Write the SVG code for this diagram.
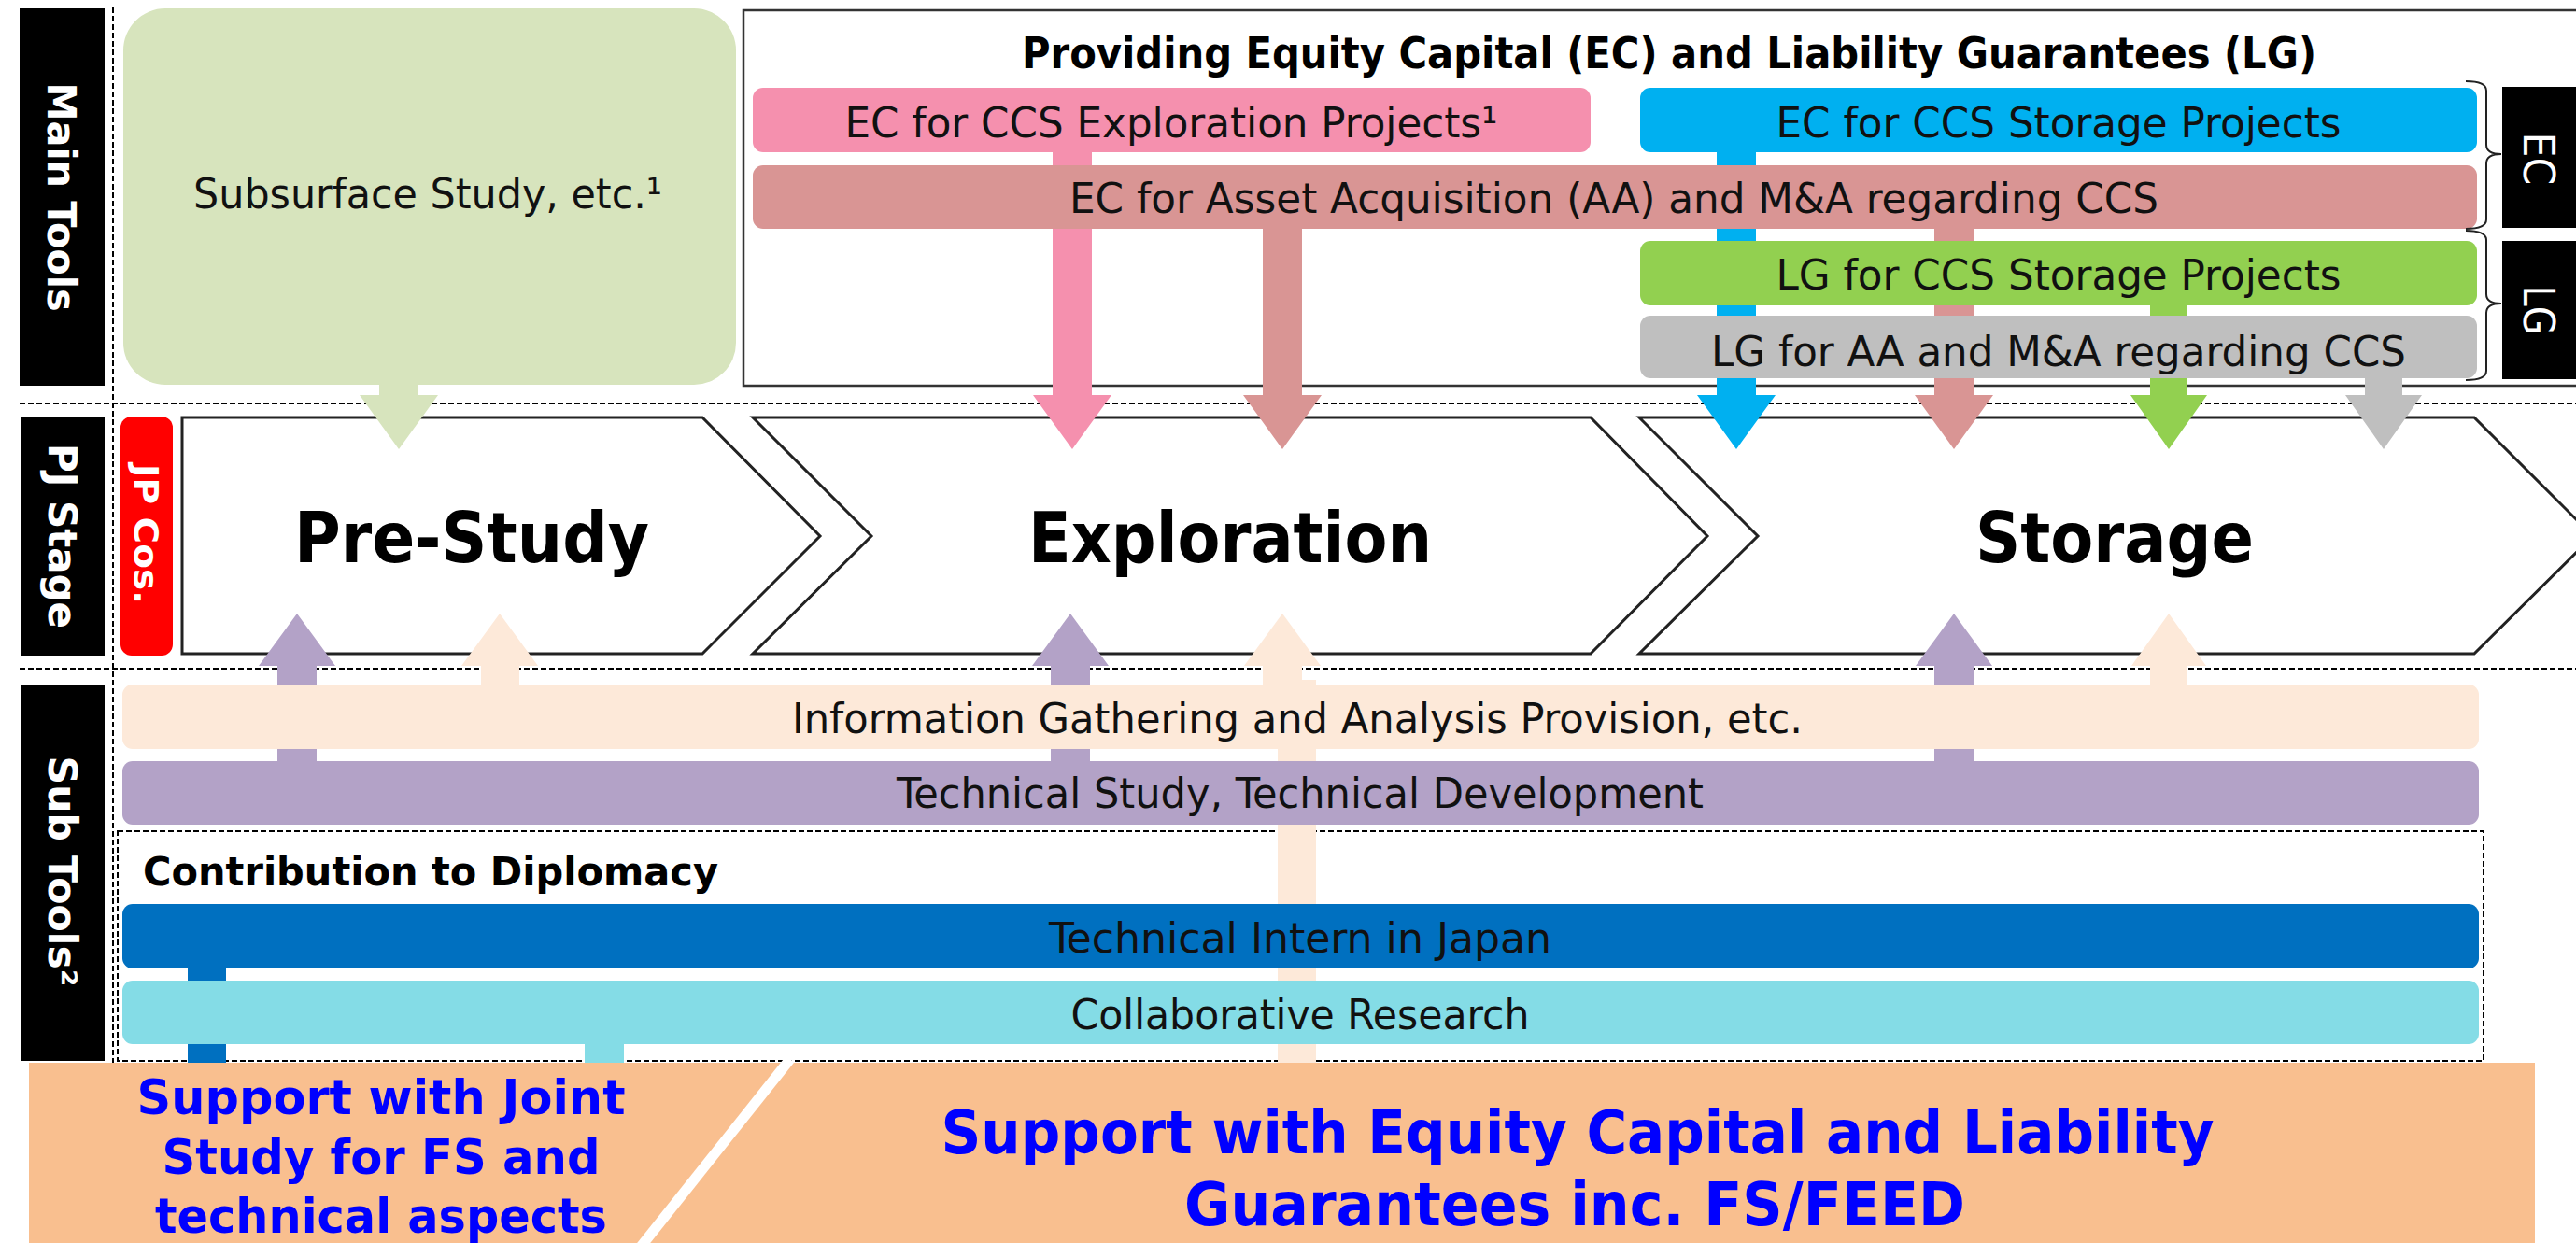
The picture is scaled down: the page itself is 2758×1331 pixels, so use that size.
<svg xmlns="http://www.w3.org/2000/svg" width="2758" height="1331" viewBox="0 0 2758 1331">
<defs>
<style>
.lbl{font-family:"DejaVu Sans Condensed","DejaVu Sans","Liberation Sans",sans-serif;font-stretch:condensed;font-size:45px;fill:#111;text-anchor:middle}
.bold{font-family:"DejaVu Sans","Liberation Sans",sans-serif;font-weight:bold;fill:#000}
.stage{font-size:75px;text-anchor:middle}
.side{font-family:"DejaVu Sans","Liberation Sans",sans-serif;font-weight:bold;fill:#fff;text-anchor:middle;font-size:42px}
.ban{font-family:"DejaVu Sans","Liberation Sans",sans-serif;font-weight:bold;fill:#0000FF;text-anchor:middle}
.dash{stroke:#000;stroke-width:2;stroke-dasharray:6 3;fill:none}
.chev{fill:#fff;stroke:#222;stroke-width:3;stroke-linejoin:miter}
</style>
</defs>
<rect width="2758" height="1331" fill="#fff"/>

<g id="grid">
<line class="dash" x1="21" y1="432" x2="2758" y2="432"/>
<line class="dash" x1="21" y1="716" x2="2758" y2="716"/>
<line class="dash" x1="121" y1="8" x2="121" y2="1138"/>
<rect class="dash" x="126" y="890" width="2533" height="246"/>
</g>

<g id="row-labels">
<g id="main-tools"><rect x="21" y="9" width="91" height="404" fill="#000"/>
<text class="side" transform="translate(66,211) rotate(90)" x="0" y="15" textLength="245" lengthAdjust="spacingAndGlyphs">Main Tools</text></g>
<g id="pj-stage"><rect x="23" y="446" width="89" height="256" fill="#000"/>
<text class="side" transform="translate(67,574) rotate(90)" x="0" y="15" textLength="198" lengthAdjust="spacingAndGlyphs">PJ Stage</text></g>
<g id="jp-cos"><rect x="129" y="446" width="56" height="256" rx="12" fill="#FF0000"/>
<text class="side" style="font-size:36px" transform="translate(157,572) rotate(90)" x="0" y="13" textLength="150" lengthAdjust="spacingAndGlyphs">JP Cos.</text></g>
<g id="sub-tools"><rect x="22" y="733" width="90" height="403" fill="#000"/>
<text class="side" transform="translate(67,933) rotate(90)" x="0" y="15" textLength="247" lengthAdjust="spacingAndGlyphs">Sub Tools²</text></g>
</g>

<g id="main-box"><rect x="796" y="11" width="1990" height="402" fill="none" stroke="#333" stroke-width="2.5"/>
<text class="bold" x="1787" y="73" font-size="46" text-anchor="middle" textLength="1386" lengthAdjust="spacingAndGlyphs">Providing Equity Capital (EC) and Liability Guarantees (LG)</text></g>

<g id="stages">
<g id="pre-study"><polygon class="chev" points="195,447 752,447 878,574 752,700 195,700"/>
<text class="bold stage" x="505" y="602" textLength="380" lengthAdjust="spacingAndGlyphs">Pre-Study</text></g>
<g id="exploration"><polygon class="chev" points="806,447 1703,447 1828,574 1703,700 806,700 933,574"/>
<text class="bold stage" x="1317" y="602" textLength="432" lengthAdjust="spacingAndGlyphs">Exploration</text></g>
<g id="storage"><polygon class="chev" points="1755,447 2649,447 2776,574 2649,700 1755,700 1882,574"/>
<text class="bold stage" x="2264" y="602" textLength="298" lengthAdjust="spacingAndGlyphs">Storage</text></g>
</g>

<g id="connectors">
<polygon fill="#D7E4BD" points="406,405 448,405 448,423 469,423 427,481 385,423 406,423"/>
<polygon fill="#F590AE" points="1127,160 1169,160 1169,423 1190,423 1148,481 1106,423 1127,423"/>
<polygon fill="#D99594" points="1352,240 1394,240 1394,423 1415,423 1373,481 1331,423 1352,423"/>
<polygon fill="#00B0F0" points="1838,160 1880,160 1880,423 1901,423 1859,481 1817,423 1838,423"/>
<polygon fill="#D99594" points="2071,240 2113,240 2113,423 2134,423 2092,481 2050,423 2071,423"/>
<polygon fill="#92D050" points="2302,320 2342,320 2342,423 2363,423 2322,481 2281,423 2302,423"/>
<polygon fill="#BFBFBF" points="2532,400 2572,400 2572,423 2593,423 2552,481 2511,423 2532,423"/>

<polygon fill="#B3A2C7" points="297,820 339,820 339,713 359,713 318,657 277,713 297,713"/>
<polygon fill="#FDE9D9" points="515,740 556,740 556,713 576,713 535,657 494,713 515,713"/>
<polygon fill="#B3A2C7" points="1125,820 1167,820 1167,713 1187,713 1146,657 1105,713 1125,713"/>
<polygon fill="#FDE9D9" points="1352,740 1394,740 1394,713 1414,713 1373,657 1332,713 1352,713"/>
<rect fill="#FDE9D9" x="1368" y="728" width="41" height="410"/>
<polygon fill="#B3A2C7" points="2071,820 2113,820 2113,713 2133,713 2092,657 2051,713 2071,713"/>
<polygon fill="#FDE9D9" points="2302,740 2342,740 2342,713 2362,713 2322,657 2282,713 2302,713"/>
<rect fill="#0070C0" x="201" y="1030" width="41" height="108"/>
<rect fill="#84DCE6" x="626" y="1110" width="42" height="28"/>
</g>

<g id="subsurface"><rect x="132" y="9" width="656" height="403" rx="45" fill="#D7E4BD"/>
<text class="lbl" x="458" y="223" textLength="502" lengthAdjust="spacingAndGlyphs">Subsurface Study, etc.¹</text></g>

<g id="ec-exploration"><rect x="806" y="94" width="897" height="69" rx="11" fill="#F590AE"/>
<text class="lbl" x="1254" y="147" textLength="699" lengthAdjust="spacingAndGlyphs">EC for CCS Exploration Projects¹</text></g>
<g id="ec-storage"><rect x="1756" y="94" width="896" height="69" rx="11" fill="#00B0F0"/>
<text class="lbl" x="2204" y="147" textLength="605" lengthAdjust="spacingAndGlyphs">EC for CCS Storage Projects</text></g>
<g id="ec-aa"><rect x="806" y="177" width="1846" height="68" rx="11" fill="#D99594"/>
<text class="lbl" x="1728" y="228" textLength="1166" lengthAdjust="spacingAndGlyphs">EC for Asset Acquisition (AA) and M&amp;A regarding CCS</text></g>
<g id="lg-storage"><rect x="1756" y="258" width="896" height="69" rx="11" fill="#92D050"/>
<text class="lbl" x="2204" y="310" textLength="605" lengthAdjust="spacingAndGlyphs">LG for CCS Storage Projects</text></g>
<g id="lg-aa"><rect x="1756" y="338" width="896" height="67" rx="11" fill="#BFBFBF"/>
<text class="lbl" x="2204" y="392" textLength="744" lengthAdjust="spacingAndGlyphs">LG for AA and M&amp;A regarding CCS</text></g>

<g id="braces" fill="none" stroke="#222" stroke-width="2">
<path d="M2640,87 Q2662,87 2662,97 L2662,155 Q2662,165 2678,165 Q2662,165 2662,175 L2662,235 Q2662,245 2640,245"/>
<path d="M2640,247 Q2662,247 2662,257 L2662,315 Q2662,325 2678,325 Q2662,325 2662,335 L2662,397 Q2662,407 2640,407"/>
</g>
<g id="ec-tag"><rect x="2679" y="93" width="79" height="151" fill="#000"/>
<text class="side" style="font-weight:normal;font-size:47px" transform="translate(2719,170) rotate(90)" x="0" y="17" textLength="57" lengthAdjust="spacingAndGlyphs">EC</text></g>
<g id="lg-tag"><rect x="2679" y="258" width="79" height="148" fill="#000"/>
<text class="side" style="font-weight:normal;font-size:47px" transform="translate(2719,332) rotate(90)" x="0" y="17" textLength="53" lengthAdjust="spacingAndGlyphs">LG</text></g>

<g id="info"><rect x="131" y="733" width="2523" height="69" rx="11" fill="#FDE9D9"/>
<text class="lbl" x="1389" y="785" textLength="1082" lengthAdjust="spacingAndGlyphs">Information Gathering and Analysis Provision, etc.</text></g>
<g id="tech"><rect x="131" y="815" width="2523" height="68" rx="11" fill="#B3A2C7"/>
<text class="lbl" x="1392" y="865" textLength="864" lengthAdjust="spacingAndGlyphs">Technical Study, Technical Development</text></g>
<g id="diplomacy"><text class="bold" x="153" y="948" font-size="42" textLength="616" lengthAdjust="spacingAndGlyphs">Contribution to Diplomacy</text></g>
<g id="intern"><rect x="131" y="968" width="2523" height="69" rx="11" fill="#0070C0"/>
<text class="lbl" x="1392" y="1020" textLength="538" lengthAdjust="spacingAndGlyphs">Technical Intern in Japan</text></g>
<g id="collab"><rect x="131" y="1050" width="2523" height="68" rx="11" fill="#84DCE6"/>
<text class="lbl" x="1392" y="1102" textLength="491" lengthAdjust="spacingAndGlyphs">Collaborative Research</text></g>

<g id="banner">
<rect x="31" y="1138" width="2683" height="193" fill="#F9BF8F"/>
<line x1="846" y1="1134" x2="686" y2="1335" stroke="#fff" stroke-width="11"/>
<text class="ban" font-size="52"><tspan x="408" y="1193" textLength="523" lengthAdjust="spacingAndGlyphs">Support with Joint</tspan><tspan x="408" y="1257" textLength="469" lengthAdjust="spacingAndGlyphs">Study for FS and</tspan><tspan x="408" y="1320" textLength="484" lengthAdjust="spacingAndGlyphs">technical aspects</tspan></text>
<text class="ban" font-size="64"><tspan x="1689" y="1235" textLength="1363" lengthAdjust="spacingAndGlyphs">Support with Equity Capital and Liability</tspan><tspan x="1686" y="1312" textLength="836" lengthAdjust="spacingAndGlyphs">Guarantees inc. FS/FEED</tspan></text>
</g>
</svg>
